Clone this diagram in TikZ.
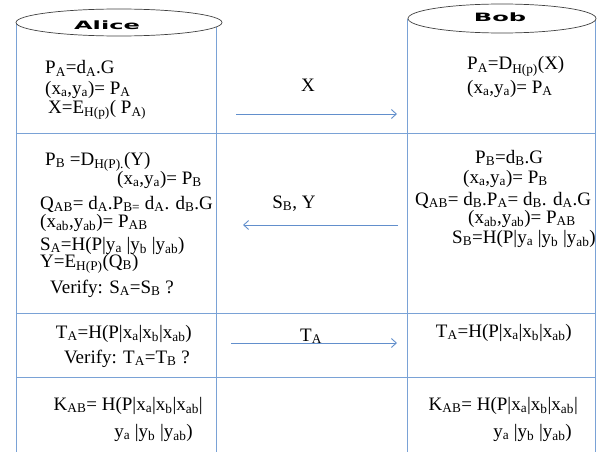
\documentclass[tikz,border=0pt]{standalone}
\usepackage{fontspec}
\setmainfont{Liberation Serif}
\newfontfamily\headfont[FakeStretch=2.1]{DejaVu Sans}
\usetikzlibrary{arrows.meta, shapes.geometric}
\definecolor{rulecol}{RGB}{122,162,214}
\definecolor{msgcol}{RGB}{98,143,204}
\newcommand{\lo}[1]{\textsubscript{#1}}

\begin{document}
\begin{tikzpicture}[x=1pt, y=-1pt,
  font=\fontsize{19}{20}\selectfont,
  % ---- party heads and the table lines ----
  party/.style={ellipse, draw=black!75, fill=white, line width=0.7pt, inner sep=0pt},
  head/.style={anchor=base, inner sep=0pt, font=\headfont\bfseries\fontsize{11.5}{12}\selectfont},
  grid/.style={draw=rulecol, line width=0.9pt},
  % ---- messages ----
  msg/.style={-{Straight Barb[length=5pt, width=9pt]}, draw=msgcol, line width=0.9pt},
  % ---- text lines ----
  lt/.style={anchor=base west, inner sep=0pt},
  rt/.style={anchor=base east, inner sep=0pt},
  ct/.style={anchor=base, inner sep=0pt},
]
\useasboundingbox (0,0) rectangle (597,452);

% ---- Columns and rows ----
\draw[grid] (16,22) -- (16,452);
\draw[grid] (216,22) -- (216,452);
\draw[grid] (407,19) -- (407,452);
\draw[grid] (595,19) -- (595,452);
\draw[grid] (16,133) -- (595,133);
\draw[grid] (16,313) -- (595,313);
\draw[grid] (16,377) -- (595,377);

% ---- Heads ----
\node[party, minimum width=206, minimum height=27] (alice) at (119,22.5) {};
\node[party, minimum width=188, minimum height=29] (bob) at (502,18.5) {};
\node[head] (alicelbl) at (107,30) {Alice};
\node[head] (boblbl) at (500,21.5) {Bob};

% ---- Step 1 ----
\node[lt] (a1) at (45,74)  {P\lo{A}=d\lo{A}.G};
\node[lt] (a2) at (45,94)  {(x\lo{a},y\lo{a})= P\lo{A}};
\node[lt] (a3) at (48,113) {X=E\lo{H(p)}( P\lo{A)}};
\node[lt] (b1) at (467,70) {P\lo{A}=D\lo{H(p)}(X)};
\node[lt] (b2) at (467,93) {(x\lo{a},y\lo{a})= P\lo{A}};

\coordinate (m1s) at (236,114);
\coordinate (m1e) at (397,114);
\draw[msg] (m1s) -- (m1e);
\node[ct] (m1lbl) at (308,92) {X};

% ---- Step 2 ----
\node[lt] (a4)  at (45,165)  {P\lo{B} =D\lo{H(P).}(Y)};
\node[lt] (a5)  at (117,184) {(x\lo{a},y\lo{a})= P\lo{B}};
\node[lt] (a6)  at (40,209)  {Q\lo{AB}= d\lo{A}.P\lo{B=} d\lo{A}. d\lo{B}.G};
\node[lt] (a7)  at (40,227)  {(x\lo{ab},y\lo{ab})= P\lo{AB}};
\node[lt] (a8)  at (40,250)  {S\lo{A}=H(P|y\lo{a} |y\lo{b} |y\lo{ab})};
\node[lt] (a9)  at (40,267)  {Y=E\lo{H(P)}(Q\lo{B})};
\node[lt] (a10) at (50,293)  {Verify: S\lo{A}=S\lo{B} ?};

\node[lt] (b3) at (475,163) {P\lo{B}=d\lo{B}.G};
\node[lt] (b4) at (463,183) {(x\lo{a},y\lo{a})= P\lo{B}};
\node[lt] (b5) at (415,205) {Q\lo{AB}= d\lo{B}.P\lo{A}= d\lo{B}. d\lo{A}.G};
\node[lt] (b6) at (468,223) {(x\lo{ab},y\lo{ab})= P\lo{AB}};
\node[lt] (b7) at (452,243) {S\lo{B}=H(P|y\lo{a} |y\lo{b} |y\lo{ab})};

\coordinate (m2s) at (398,225);
\coordinate (m2e) at (243,225);
\draw[msg] (m2s) -- (m2e);
\node[ct] (m2lbl) at (294,208) {S\lo{B}, Y};

% ---- Step 3 ----
\node[rt] (a11) at (192,338) {T\lo{A}=H(P|x\lo{a}|x\lo{b}|x\lo{ab})};
\node[rt] (a12) at (190,363) {Verify: T\lo{A}=T\lo{B} ?};
\node[rt] (b8)  at (572,337) {T\lo{A}=H(P|x\lo{a}|x\lo{b}|x\lo{ab})};

\coordinate (m3s) at (231,343);
\coordinate (m3e) at (397,343);
\draw[msg] (m3s) -- (m3e);
\node[lt] (m3lbl) at (300,341) {T\lo{A}};

% ---- Session key ----
\node[rt] (a13) at (203,410) {K\lo{AB}= H(P|x\lo{a}|x\lo{b}|x\lo{ab}|};
\node[rt] (a14) at (193,437) {y\lo{a} |y\lo{b} |y\lo{ab})};
\node[rt] (b9)  at (578,410) {K\lo{AB}= H(P|x\lo{a}|x\lo{b}|x\lo{ab}|};
\node[rt] (b10) at (572,437) {y\lo{a} |y\lo{b} |y\lo{ab})};
\end{tikzpicture}
\end{document}
